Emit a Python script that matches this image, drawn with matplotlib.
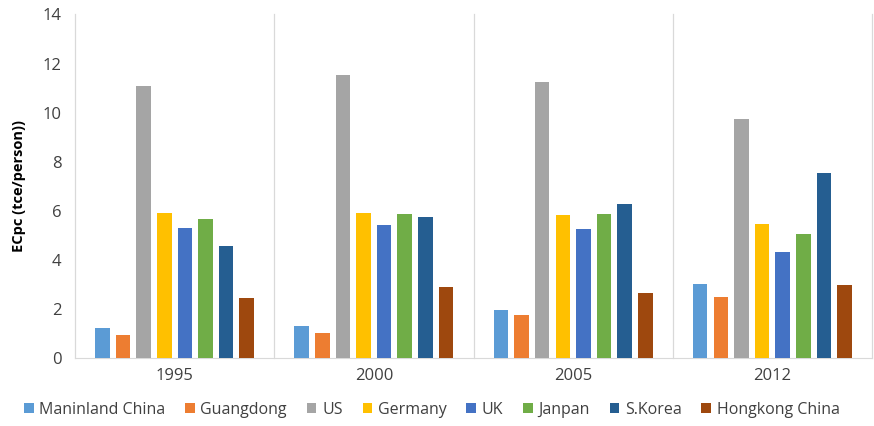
import numpy as np
import matplotlib
matplotlib.use("Agg")
import matplotlib.pyplot as plt

years = ["1995", "2000", "2005", "2012"]
regions = ["Maninland China", "Guangdong", "US", "Germany", "UK", "Janpan", "S.Korea", "Hongkong China"]

# per-capita energy consumption, one list per region (1995, 2000, 2005, 2012)
mainland = [1.22, 1.33, 1.96, 3.01]
guangdong = [0.95, 1.04, 1.75, 2.51]
us = [11.10, 11.53, 11.24, 9.75]
germany = [5.93, 5.91, 5.84, 5.48]
uk = [5.32, 5.42, 5.28, 4.32]
japan = [5.69, 5.87, 5.87, 5.06]
skorea = [4.59, 5.74, 6.29, 7.55]
hongkong = [2.47, 2.89, 2.67, 2.99]

series = [mainland, guangdong, us, germany, uk, japan, skorea, hongkong]
colors = ["#5B9BD5", "#ED7D31", "#A5A5A5", "#FFC000", "#4472C4", "#70AD47", "#255E91", "#9E480E"]

plt.rcParams['font.family'] = ['Open Sans', 'DejaVu Sans']

fig = plt.figure(figsize=(8.74, 4.26), dpi=100)
ax = fig.add_axes([0.086, 0.159, 0.912, 0.807])

step = 0.1035
width = 0.073
x0 = np.arange(len(years)) + 0.1 + width / 2
for i, (vals, c) in enumerate(zip(series, colors)):
    ax.bar(x0 + i * step, vals, width=width, color=c, label=regions[i], zorder=3)

# light separators between year groups
for xb in range(len(years) + 1):
    ax.axvline(xb, color="#d9d9d9", lw=0.9, zorder=1, clip_on=False)

ax.set_xlim(0, len(years))
ax.set_ylim(0, 14)
ax.set_yticks(range(0, 15, 2))
ax.set_xticks(np.arange(len(years)) + 0.5)
ax.set_xticklabels(years)
ax.tick_params(axis="both", length=0, colors="#404040", labelsize=12)
ax.tick_params(axis="y", pad=10)
ax.tick_params(axis="x", pad=7)

for s in ["top", "right", "left"]:
    ax.spines[s].set_visible(False)
ax.spines["bottom"].set_color("#d9d9d9")

ax.set_ylabel("ECpc (tce/person))", fontsize=10.5, fontweight="bold", color="#000000", labelpad=12)

handles, labels = ax.get_legend_handles_labels()
fig.legend(handles, labels, loc="lower center", ncol=8, frameon=False,
           bbox_to_anchor=(0.494, -0.015), fontsize=11.5, handlelength=0.6, handleheight=0.6,
           handletextpad=0.35, columnspacing=1.25, labelcolor="#404040")

fig.savefig("out.png", dpi=100)
